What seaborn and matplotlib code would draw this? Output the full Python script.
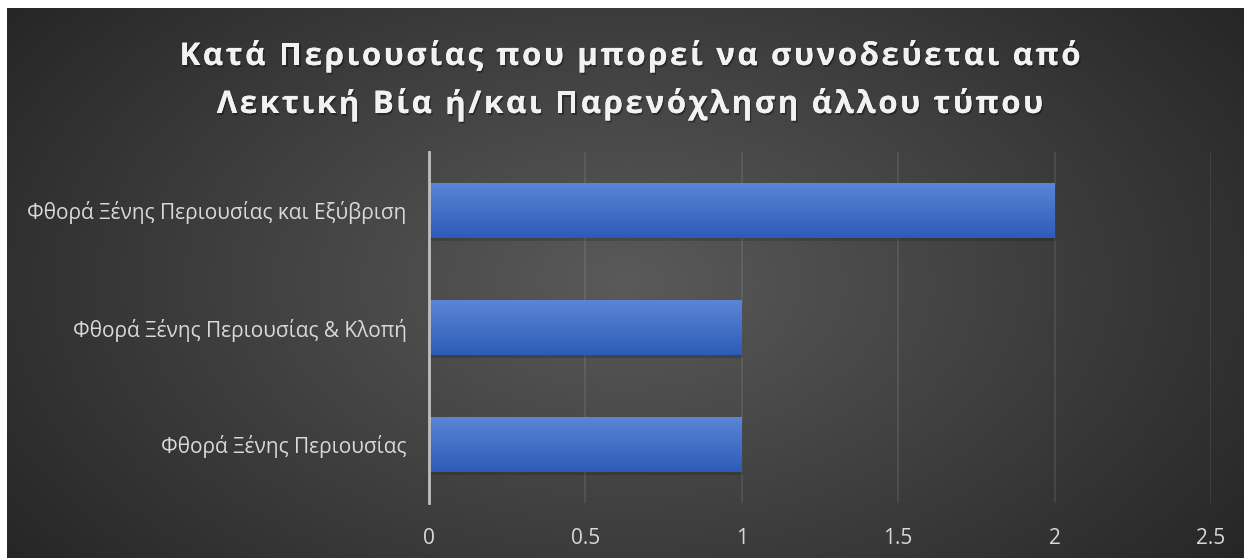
import numpy as np
import pandas as pd
import matplotlib
matplotlib.use('Agg')
import matplotlib.pyplot as plt
import matplotlib.patheffects as pe
from matplotlib.font_manager import FontProperties
import seaborn as sns

# data
categories = ['Φθορά Ξένης Περιουσίας και Εξύβριση',
              'Φθορά Ξένης Περιουσίας & Κλοπή',
              'Φθορά Ξένης Περιουσίας']
values = [2, 1, 1]
x_ticks = [0, 0.5, 1, 1.5, 2, 2.5]
x_tick_labels = ['0', '0.5', '1', '1.5', '2', '2.5']
title_lines = ['Κατά Περιουσίας που μπορεί να συνοδεύεται από',
               'Λεκτική Βία ή/και Παρενόχληση άλλου τύπου']

df = pd.DataFrame({'category': categories, 'value': values})

sns.set_theme(style='white')
plt.rcParams['font.family'] = ['Open Sans', 'DejaVu Sans']

W, H = 1244, 558
fig = plt.figure(figsize=(W / 100, H / 100), dpi=100)
fig.patch.set_facecolor('white')

# dark radial gradient background (chart area, with white margin top/left)
bg = fig.add_axes([7 / W, 0, 1 - 7 / W, 1 - 8 / H], zorder=0)
yy, xx = np.mgrid[0:1:300j, 0:1:600j]
r = np.sqrt(((xx - 0.5) / 0.62) ** 2 + ((yy - 0.5) / 0.85) ** 2)
r = np.clip(r, 0, 1)
light = np.array([0x5a, 0x5a, 0x5a]) / 255
dark = np.array([0x26, 0x26, 0x26]) / 255
img = light[None, None, :] * (1 - r[..., None]) + dark[None, None, :] * r[..., None]
bg.imshow(img, aspect='auto', extent=[0, 1, 0, 1], origin='lower')
bg.set_axis_off()

ax = fig.add_axes([429 / W, 1 - 503 / H, (1211 - 429) / W, (503 - 152) / H], zorder=1)
ax.patch.set_alpha(0)

sns.barplot(data=df, x='value', y='category', orient='h', color='#4472c4',
            width=0.47, saturation=1, linewidth=0, edgecolor='none', ax=ax)

# vertical gradient on each bar
grad = np.linspace(0, 1, 64)[:, None]
top_c = np.array([0x5b, 0x85, 0xd6]) / 255
bot_c = np.array([0x2d, 0x5c, 0xb8]) / 255
gimg = top_c[None, None, :] * (1 - grad[..., None]) + bot_c[None, None, :] * grad[..., None]
for p in list(ax.patches):
    x0, y0 = p.get_x(), p.get_y()
    w, h = p.get_width(), p.get_height()
    # soft shadow
    ax.add_patch(plt.Rectangle((x0 + 0.005, y0 + 0.025), w, h, color='black',
                               alpha=0.15, lw=0, zorder=1.5))
    p.set_zorder(2)
    im = ax.imshow(gimg, aspect='auto', extent=[x0, x0 + w, y0 + h, y0],
                   zorder=3, interpolation='bilinear')
    im.set_clip_path(p)

ax.set_xlim(0, 2.5)
ax.set_ylim(2.5, -0.5)
ax.set_xticks(x_ticks)
ax.set_xticklabels(x_tick_labels)
ax.grid(axis='x', color='white', alpha=0.1, lw=1.2)
ax.set_axisbelow(True)
for s in ['top', 'right', 'bottom']:
    ax.spines[s].set_visible(False)
ax.spines['left'].set_color('#bfbfbf')
ax.spines['left'].set_linewidth(2)
ax.spines['left'].set_zorder(4)
ax.tick_params(axis='x', length=0, pad=18, labelsize=15, colors='#d9d9d9')
ax.tick_params(axis='y', length=0, pad=16, labelsize=15, colors='#d9d9d9')
ax.set_xlabel('')
ax.set_ylabel('')

# letter-spaced title, drawn char by char
renderer = fig.canvas.get_renderer()
fp = FontProperties(family=['Open Sans', 'DejaVu Sans'], weight='bold', size=22.5)
spacing = 2.6  # px between letters
shadow = [pe.withSimplePatchShadow(offset=(1, -1.5), shadow_rgbFace='black', alpha=0.35),
          pe.Normal()]
for line, ypx in zip(title_lines, [57, 105]):
    widths = []
    for ch in line:
        wpx, _, _ = renderer.get_text_width_height_descent(ch, fp, ismath=False)
        if ch == ' ':
            wpx = fp.get_size_in_points() * 100 / 72 * 0.26
        widths.append(wpx)
    total = sum(widths) + spacing * (len(line) - 1)
    xpx = 630 - total / 2
    for ch, wpx in zip(line, widths):
        if ch != ' ':
            t = fig.text(xpx / W, 1 - ypx / H, ch, ha='left', va='center',
                         fontproperties=fp, color='#f2f2f2')
            t.set_path_effects(shadow)
        xpx += wpx + spacing

fig.savefig('out.png', dpi=100, facecolor=fig.get_facecolor())
